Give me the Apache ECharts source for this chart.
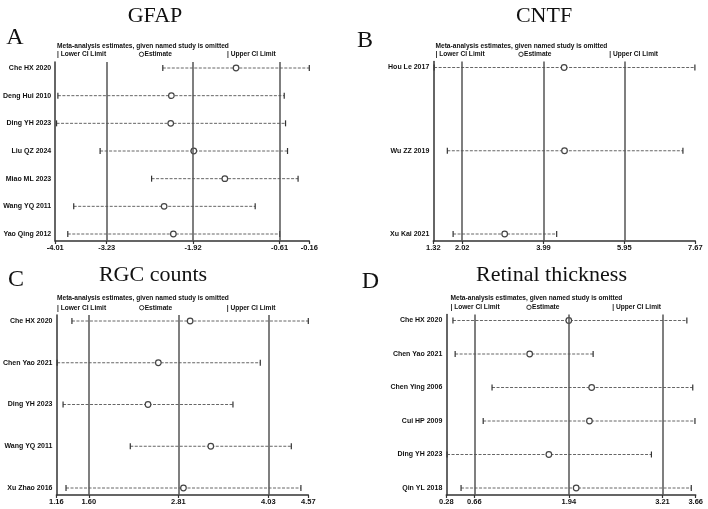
<!DOCTYPE html>
<html>
<head>
<meta charset="utf-8">
<script src="https://cdn.jsdelivr.net/npm/echarts@6/dist/echarts.min.js"></script>
<style>
html,body{margin:0;padding:0;background:#fff}
#main{width:708px;height:509px}
</style>
</head>
<body>
<div id="main"></div>
<script>
// A: GFAP
var gfapStudies = ['Che HX 2020', 'Deng Hui 2010', 'Ding YH 2023', 'Liu QZ 2024', 'Miao ML 2023', 'Wang YQ 2011', 'Yao Qing 2012'];
var gfapLower = [-2.38, -3.97, -3.99, -3.33, -2.55, -3.73, -3.82];
var gfapEst   = [-1.27, -2.25, -2.26, -1.91, -1.44, -2.36, -2.22];
var gfapUpper = [-0.16, -0.54, -0.52, -0.49, -0.33, -0.98, -0.61];
var gfapTicks = [-4.01, -3.23, -1.92, -0.61, -0.16];

// B: CNTF
var cntfStudies = ['Hou Le 2017', 'Wu ZZ 2019', 'Xu Kai 2021'];
var cntfLower = [1.34, 1.66, 1.80];
var cntfEst   = [4.49, 4.50, 3.05];
var cntfUpper = [7.66, 7.37, 4.31];
var cntfTicks = [1.32, 2.02, 3.99, 5.95, 7.67];

// C: RGC counts
var rgcStudies = ['Che HX 2020', 'Chen Yao 2021', 'Ding YH 2023', 'Wang YQ 2011', 'Xu Zhao 2016'];
var rgcLower = [1.37, 1.17, 1.25, 2.16, 1.29];
var rgcEst   = [2.97, 2.54, 2.40, 3.25, 2.88];
var rgcUpper = [4.57, 3.92, 3.55, 4.34, 4.47];
var rgcTicks = [1.16, 1.60, 2.81, 4.03, 4.57];

// D: Retinal thickness
var retStudies = ['Che HX 2020', 'Chen Yao 2021', 'Chen Ying 2006', 'Cui HP 2009', 'Ding YH 2023', 'Qin YL 2018'];
var retLower = [0.37, 0.40, 0.90, 0.78, 0.29, 0.48];
var retEst   = [1.94, 1.41, 2.25, 2.22, 1.67, 2.04];
var retUpper = [3.54, 2.27, 3.62, 3.65, 3.06, 3.60];
var retTicks = [0.28, 0.66, 1.94, 3.21, 3.66];

var panels = [
  {title: 'GFAP', letter: 'A', studies: gfapStudies, lower: gfapLower, est: gfapEst, upper: gfapUpper, ticks: gfapTicks,
   grid: {left: 55, top: 62, width: 254.3, height: 179},
   titlePos: [155, 16], letterPos: [15, 38], head: {x: 57, y1: 45.7, y2: 54.3, circ: 141.5, upper: 227}},
  {title: 'CNTF', letter: 'B', studies: cntfStudies, lower: cntfLower, est: cntfEst, upper: cntfUpper, ticks: cntfTicks,
   grid: {left: 433.3, top: 61.5, width: 262, height: 179.5},
   titlePos: [544, 16], letterPos: [365, 41], head: {x: 435.5, y1: 45.7, y2: 54.3, circ: 521, upper: 609.3}},
  {title: 'RGC counts', letter: 'C', studies: rgcStudies, lower: rgcLower, est: rgcEst, upper: rgcUpper, ticks: rgcTicks,
   grid: {left: 55, top: 315, width: 253.3, height: 180},
   titlePos: [153, 275], letterPos: [16, 280], head: {x: 57, y1: 298.3, y2: 307.7, circ: 141.7, upper: 226.7}},
  {title: 'Retinal thickness', letter: 'D', studies: retStudies, lower: retLower, est: retEst, upper: retUpper, ticks: retTicks,
   grid: {left: 446.3, top: 314.5, width: 249.4, height: 180.5},
   titlePos: [551.5, 275], letterPos: [370.5, 282], head: {x: 450.5, y1: 297.7, y2: 307.3, circ: 529, upper: 612.3}}
];

function renderBar(params, api) {
  var row = api.value(3);
  var lo = api.coord([api.value(0), row]);
  var es = api.coord([api.value(1), row]);
  var hi = api.coord([api.value(2), row]);
  return {
    type: 'group',
    children: [
      {type: 'line', shape: {x1: lo[0], y1: lo[1], x2: hi[0], y2: hi[1]},
       style: {stroke: '#666', lineWidth: 1, lineDash: [3, 1.5]}},
      {type: 'line', shape: {x1: lo[0], y1: lo[1] - 3, x2: lo[0], y2: lo[1] + 3},
       style: {stroke: '#333', lineWidth: 1.2}},
      {type: 'line', shape: {x1: hi[0], y1: hi[1] - 3, x2: hi[0], y2: hi[1] + 3},
       style: {stroke: '#333', lineWidth: 1.2}},
      {type: 'circle', shape: {cx: es[0], cy: es[1], r: 2.8},
       style: {fill: '#fff', stroke: '#444', lineWidth: 1.2}}
    ]
  };
}

var grids = [], xAxes = [], yAxes = [], series = [], graphics = [];

panels.forEach(function (p, i) {
  var n = p.studies.length;
  var step = (p.grid.height - 13) / (n - 1);
  var rows = p.studies.map(function (s, k) { return k; });
  grids.push(p.grid);
  xAxes.push({
    type: 'value', gridIndex: i, position: 'bottom',
    min: p.ticks[0], max: p.ticks[p.ticks.length - 1],
    splitLine: {show: false},
    axisLine: {onZero: false, lineStyle: {color: '#333', width: 1.5}},
    axisTick: {customValues: p.ticks, length: 3, lineStyle: {color: '#333', width: 1.2}},
    axisLabel: {customValues: p.ticks, margin: 3, fontSize: 7.5, fontWeight: 'bold',
      fontFamily: 'Liberation Sans', color: '#111',
      formatter: function (v) { return v.toFixed(2); }}
  });
  yAxes.push({
    type: 'value', gridIndex: i, inverse: true, position: 'left',
    min: -6 / step, max: n - 1 + 7 / step,
    splitLine: {show: false},
    axisLine: {show: true, onZero: false, lineStyle: {color: '#333', width: 1.5}},
    axisTick: {show: false},
    axisLabel: {customValues: rows, margin: 4, fontSize: 7, fontWeight: 'bold',
      fontFamily: 'Liberation Sans', color: '#111',
      formatter: function (v) { return p.studies[Math.round(v)]; }}
  });
  series.push({
    type: 'custom', xAxisIndex: i, yAxisIndex: i,
    renderItem: renderBar,
    data: p.studies.map(function (s, k) { return [p.lower[k], p.est[k], p.upper[k], k]; }),
    markLine: {
      silent: true, symbol: ['none', 'none'], label: {show: false},
      lineStyle: {color: '#555', width: 1.5, type: 'solid'},
      data: p.ticks.slice(1, 4).map(function (v) { return {xAxis: v}; })
    }
  });
  // titles and header texts
  graphics.push({type: 'text', x: p.titlePos[0], y: p.titlePos[1],
    style: {text: p.title, font: '22px "Liberation Serif"', fill: '#111', align: 'center', verticalAlign: 'middle'}});
  graphics.push({type: 'text', x: p.letterPos[0], y: p.letterPos[1],
    style: {text: p.letter, font: '24px "Liberation Serif"', fill: '#111', align: 'center', verticalAlign: 'middle'}});
  graphics.push({type: 'text', x: p.head.x, y: p.head.y1,
    style: {text: 'Meta-analysis estimates, given named study is omitted', font: 'bold 6.6px "Liberation Sans"',
      fill: '#111', verticalAlign: 'middle'}});
  graphics.push({type: 'text', x: p.head.x, y: p.head.y2,
    style: {text: '| Lower CI Limit', font: 'bold 6.6px "Liberation Sans"', fill: '#111', verticalAlign: 'middle'}});
  graphics.push({type: 'circle', shape: {cx: p.head.circ, cy: p.head.y2, r: 2.2},
    style: {fill: '#fff', stroke: '#333', lineWidth: 1}});
  graphics.push({type: 'text', x: p.head.circ + 3, y: p.head.y2,
    style: {text: 'Estimate', font: 'bold 6.6px "Liberation Sans"', fill: '#111', verticalAlign: 'middle'}});
  graphics.push({type: 'text', x: p.head.upper, y: p.head.y2,
    style: {text: '| Upper CI Limit', font: 'bold 6.6px "Liberation Sans"', fill: '#111', verticalAlign: 'middle'}});
});

var myChart = echarts.init(document.getElementById('main'));
myChart.setOption({
  animation: false,
  backgroundColor: '#fff',
  grid: grids,
  xAxis: xAxes,
  yAxis: yAxes,
  series: series,
  graphic: graphics
});
</script>
</body>
</html>
